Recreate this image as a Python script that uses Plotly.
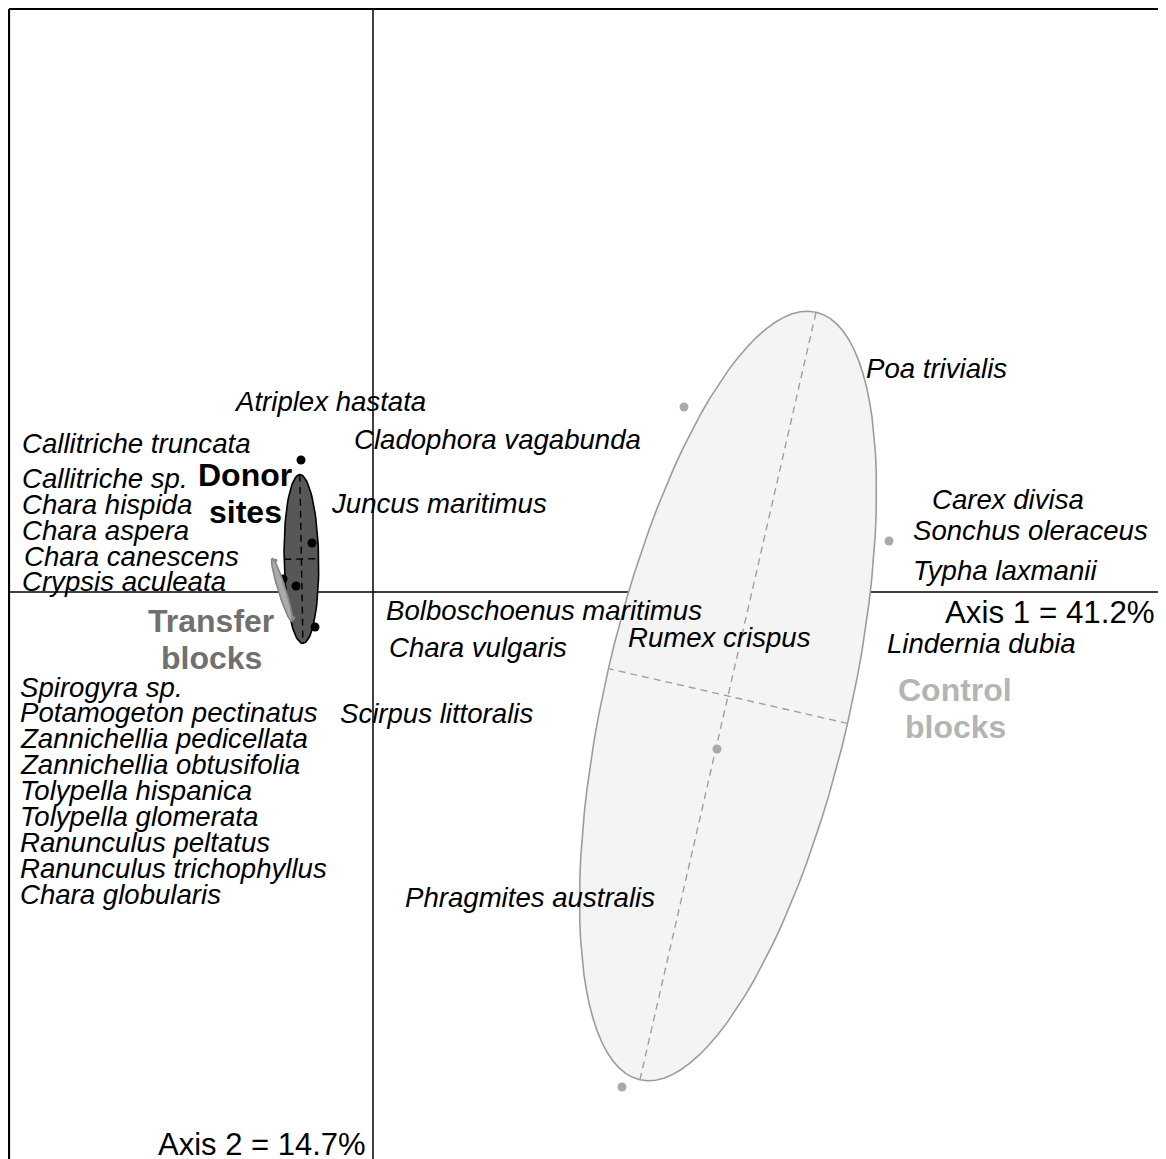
import numpy as np
import plotly.graph_objects as go

# ---- data (ordination scores, axis 1 / axis 2) ----
donor_x = [-0.36, -0.305, -0.385, -0.29, -0.45]
donor_y = [0.66, 0.245, 0.03, -0.175, 0.065]
transfer_x = [-0.488, -0.479, -0.455, -0.3985]
transfer_y = [0.157, 0.0445, -0.032, -0.1295]
control_x = [1.555, 2.58, 1.72, 1.245]
control_y = [0.925, 0.255, -0.785, -2.475]

species = ["Atriplex hastata", "Callitriche truncata", "Cladophora vagabunda", "Callitriche sp.",
           "Chara hispida", "Juncus maritimus", "Chara aspera", "Chara canescens", "Crypsis aculeata",
           "Bolboschoenus maritimus", "Chara vulgaris", "Rumex crispus", "Lindernia dubia",
           "Spirogyra sp.", "Potamogeton pectinatus", "Scirpus littoralis", "Zannichellia pedicellata",
           "Zannichellia obtusifolia", "Tolypella hispanica", "Tolypella glomerata", "Ranunculus peltatus",
           "Ranunculus trichophyllus", "Chara globularis", "Phragmites australis", "Poa trivialis",
           "Carex divisa", "Sonchus oleraceus", "Typha laxmanii"]
species_x = [-0.695, -1.755, -0.095, -1.755, -1.755, -0.21, -1.755, -1.745, -1.755,
             0.065, 0.08, 1.275, 2.57, -1.765, -1.765, -0.165, -1.765,
             -1.765, -1.765, -1.765, -1.765, -1.765, -1.765, 0.16, 2.465,
             2.795, 2.7, 2.7]
species_y = [0.955, 0.745, 0.765, 0.57, 0.44, 0.445, 0.31, 0.18, 0.055,
             -0.09, -0.275, -0.225, -0.255, -0.475, -0.6, -0.605, -0.73,
             -0.86, -0.99, -1.12, -1.25, -1.38, -1.51, -1.525, 1.12,
             0.465, 0.31, 0.11]

group_names = ["Donor<br>sites", "Transfer<br>blocks", "Control<br>blocks"]
group_label_x = [-0.64, -0.81, 2.91]
group_label_y = [0.4925, -0.235, -0.5825]
group_label_col = ["#000000", "#707070", "#b4b4b4"]

axis_labels = ["Axis 1 = 41.2%", "Axis 2 = 14.7%"]

# ---- view window ----
XR = [-1.825, 3.965]
YR = [-2.835, 2.92]
BOX = dict(left=-1.82, right=3.9375, top=2.915, bottom=-3.5)
COEFF = 1.5
LINE_STEP = 0.185  # vertical step between lines of a group label


def ellipse(xs, ys, coeff=COEFF, n=100):
    xs = np.asarray(xs, float); ys = np.asarray(ys, float)
    mx, my = xs.mean(), ys.mean()
    vx = ((xs - mx) ** 2).mean(); vy = ((ys - my) ** 2).mean()
    cxy = ((xs - mx) * (ys - my)).mean()
    delta = np.sqrt((vx - vy) ** 2 + 4 * cxy * cxy)
    l1 = (vx + vy + delta) / 2
    l2 = max(vx + vy - l1, 0)
    l1 = np.sqrt(l1); l2 = np.sqrt(l2)
    a0 = 1.0; b0 = (l1 * l1 - vx) / cxy
    nrm = np.hypot(a0, b0); a0 /= nrm; b0 /= nrm
    c11 = coeff * a0 * l1; c12 = -coeff * b0 * l2
    c21 = coeff * b0 * l1; c22 = coeff * a0 * l2
    ang = np.linspace(0, 2 * np.pi, n + 1)
    ex = mx + c11 * np.cos(ang) + c12 * np.sin(ang)
    ey = my + c21 * np.cos(ang) + c22 * np.sin(ang)
    ax1 = ([mx - c11, mx + c11], [my - c21, my + c21])
    ax2 = ([mx - c12, mx + c12], [my - c22, my + c22])
    return ex, ey, ax1, ax2


fig = go.Figure()


def add_group(xs, ys, fill, edge, axcol, ptcol, ptsize, points_first=False, axes=True):
    ex, ey, a1, a2 = ellipse(xs, ys)
    pts = go.Scatter(x=xs, y=ys, mode="markers", marker=dict(color=ptcol, size=ptsize),
                     hoverinfo="skip")
    if points_first:
        fig.add_trace(pts)
    fig.add_trace(go.Scatter(x=ex, y=ey, mode="lines", fill="toself", fillcolor=fill,
                             line=dict(color=edge, width=1.6), hoverinfo="skip"))
    if axes:
        for a in (a1, a2):
            fig.add_trace(go.Scatter(x=a[0], y=a[1], mode="lines",
                                     line=dict(color=axcol, width=1.4, dash="7px,5px"),
                                     hoverinfo="skip"))
    if not points_first:
        fig.add_trace(pts)


add_group(control_x, control_y, "#f4f4f4", "#9c9c9c", "#a0a0a0", "#aaaaaa", 9)
add_group(donor_x, donor_y, "#575757", "#000000", "#000000", "#000000", 9)
add_group(transfer_x, transfer_y, "#ababab", "#858585", "#858585", "#8a8a8a", 4,
          points_first=True, axes=False)

# frame and axes through origin
shapes = [
    dict(type="line", x0=BOX["left"], x1=BOX["left"], y0=BOX["bottom"], y1=BOX["top"]),
    dict(type="line", x0=BOX["right"], x1=BOX["right"], y0=BOX["bottom"], y1=BOX["top"]),
    dict(type="line", x0=BOX["left"], x1=BOX["right"], y0=BOX["top"], y1=BOX["top"]),
    dict(type="line", x0=BOX["left"], x1=BOX["right"], y0=BOX["bottom"], y1=BOX["bottom"]),
]
for s in shapes:
    s.update(xref="x", yref="y", line=dict(color="black", width=2.2), layer="above")
shapes.append(dict(type="line", xref="x", yref="y", x0=0, x1=0, y0=BOX["bottom"], y1=BOX["top"],
                   line=dict(color="black", width=1.5), layer="below"))
shapes.append(dict(type="line", xref="x", yref="y", x0=BOX["left"], x1=BOX["right"], y0=0, y1=0,
                   line=dict(color="black", width=1.5), layer="below"))

FONT = "Liberation Sans, Arial, Helvetica, sans-serif"
ann = []
for name, x, y in zip(species, species_x, species_y):
    ann.append(dict(x=x, y=y, xref="x", yref="y", text=name, showarrow=False,
                    xanchor="left", yanchor="middle", xshift=-2.5,
                    font=dict(family=FONT, size=27.6, color="black", style="italic")))
for name, x, y, c in zip(group_names, group_label_x, group_label_y, group_label_col):
    lines = name.split("<br>")
    n = len(lines)
    for i, ln in enumerate(lines):
        yy = y + (n - 1) / 2 * LINE_STEP - i * LINE_STEP
        ann.append(dict(x=x, y=yy, xref="x", yref="y", text=ln, showarrow=False,
                        xanchor="center", yanchor="middle",
                        font=dict(family=FONT, size=32, color=c, weight="bold")))
ann.append(dict(x=3.92, y=-0.10, xref="x", yref="y", text=axis_labels[0], showarrow=False,
                xanchor="right", yanchor="middle", font=dict(family=FONT, size=31.3, color="black")))
ann.append(dict(x=-0.025, y=-2.76, xref="x", yref="y", text=axis_labels[1], showarrow=False,
                xanchor="right", yanchor="middle", font=dict(family=FONT, size=31, color="black")))

fig.update_layout(
    width=1158, height=1151,
    margin=dict(l=0, r=0, t=0, b=0),
    paper_bgcolor="white", plot_bgcolor="white",
    showlegend=False,
    xaxis=dict(range=XR, visible=False, fixedrange=True),
    yaxis=dict(range=YR, visible=False, fixedrange=True),
    shapes=shapes, annotations=ann,
)
fig.write_html("out.html")
